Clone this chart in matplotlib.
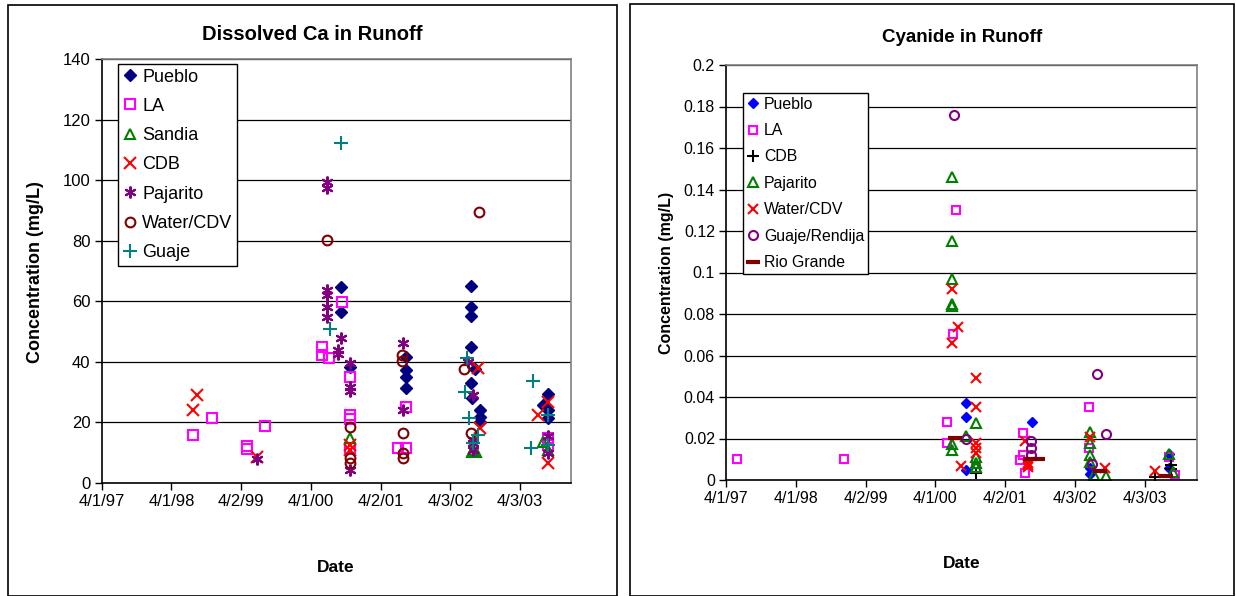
import matplotlib
matplotlib.use("Agg")
import matplotlib.pyplot as plt
from matplotlib.patches import Rectangle

plt.rcParams['font.family'] = ['Liberation Sans', 'DejaVu Sans']

# ---------------- data (x = decimal year) ----------------
tick_labels = ["4/1/97", "4/1/98", "4/2/99", "4/1/00", "4/2/01", "4/3/02", "4/3/03"]
tick_years = [1997.25, 1998.25, 1999.25, 2000.25, 2001.25, 2002.25, 2003.25]

# Dissolved Ca (mg/L)
ca_pueblo_x = [2000.68, 2000.68, 2000.81, 2001.61, 2001.61, 2001.61, 2001.61,
               2002.54, 2002.54, 2002.54, 2002.54, 2002.54, 2002.56, 2002.67, 2002.67, 2002.67, 2002.6,
               2003.65, 2003.65, 2003.65, 2003.58]
ca_pueblo_y = [64.8, 56.4, 38.4, 41.7, 37.3, 35.1, 31.3,
               65.0, 58.2, 55.2, 45.0, 33.1, 28.0, 24.1, 21.9, 20.0, 37.5,
               29.3, 24.1, 21.4, 25.8]

ca_la_x = [1998.56, 1998.83, 1999.33, 1999.33, 1999.59, 2000.41, 2000.41, 2000.51, 2000.69,
           2000.81, 2000.81, 2000.81, 2000.81, 2001.50, 2001.62, 2001.62, 2003.65, 2003.65]
ca_la_y = [16.0, 21.5, 12.2, 11.1, 18.8, 45.0, 42.3, 41.2, 59.9,
           35.1, 22.5, 21.0, 11.5, 11.5, 11.5, 25.2, 14.8, 12.5]

ca_sandia_x = [2000.81, 2002.56, 2002.62, 2002.58, 2003.58, 2003.65]
ca_sandia_y = [14.8, 10.3, 10.3, 11.0, 13.6, 11.0]

ca_cdb_x = [1998.61, 1998.56, 1999.47, 2000.81, 2000.81, 2002.65, 2002.67, 2003.51, 2003.65, 2003.65]
ca_cdb_y = [29.0, 24.0, 8.7, 12.5, 11.0, 37.9, 18.1, 22.5, 26.6, 6.5]

ca_pajarito_x = [1999.47, 2000.48, 2000.48, 2000.48, 2000.48, 2000.48, 2000.48,
                 2000.68, 2000.64, 2000.64, 2000.81, 2000.81, 2000.81, 2000.81,
                 2001.57, 2001.57, 2002.58, 2002.58, 2002.58, 2002.58, 2002.5, 2003.65, 2003.65]
ca_pajarito_y = [7.8, 99.5, 97.3, 63.7, 62.0, 58.2, 54.9,
                 47.8, 43.9, 42.7, 39.7, 31.8, 30.5, 4.3,
                 46.1, 24.1, 29.0, 14.2, 13.2, 10.9, 39.9, 15.5, 9.8]

ca_water_x = [2000.48, 2000.81, 2000.81, 2000.81, 2001.55, 2001.55, 2001.57, 2001.57, 2001.57,
              2002.66, 2002.45, 2002.54]
ca_water_y = [80.2, 18.6, 8.2, 6.5, 42.3, 40.4, 16.4, 9.8, 8.4,
              89.4, 37.8, 16.4]

ca_guaje_x = [2000.68, 2000.53, 2002.49, 2002.46, 2002.52, 2002.64, 2002.58,
              2003.44, 2003.41, 2003.65, 2003.65]
ca_guaje_y = [112.2, 51.0, 41.2, 30.1, 21.4, 15.8, 13.1,
              33.7, 11.7, 22.5, 12.5]

# Cyanide (mg/L)
cn_pueblo_x = [2000.69, 2000.69, 2000.69, 2001.63, 2002.46, 2002.46, 2003.6, 2003.6]
cn_pueblo_y = [0.037, 0.0302, 0.0048, 0.0278, 0.0056, 0.003, 0.0125, 0.006]

cn_la_x = [1997.41, 1998.94, 2000.54, 2000.51, 2000.42, 2000.42, 2000.83,
           2001.5, 2001.5, 2001.47, 2001.53, 2002.45, 2002.45, 2003.6, 2003.68]
cn_la_y = [0.01, 0.01, 0.13, 0.0704, 0.0281, 0.018, 0.006,
           0.0225, 0.012, 0.0096, 0.0032, 0.0353, 0.0153, 0.011, 0.0025]

cn_cdb_x = [2000.83, 2003.4, 2003.63, 2003.63]
cn_cdb_y = [0.0035, 0.0016, 0.0072, 0.0055]

cn_pajarito_x = [2000.49, 2000.49, 2000.49, 2000.49, 2000.49, 2000.49, 2000.49, 2000.69,
                 2000.83, 2000.83, 2000.83, 2000.83,
                 2002.46, 2002.46, 2002.46, 2002.46, 2002.52, 2002.69, 2003.6, 2003.66]
cn_pajarito_y = [0.146, 0.115, 0.097, 0.085, 0.084, 0.0174, 0.0145, 0.021,
                 0.0276, 0.0112, 0.008, 0.0063,
                 0.023, 0.0177, 0.012, 0.0088, 0.0024, 0.002, 0.0125, 0.004]

cn_water_x = [2000.49, 2000.49, 2000.58, 2000.83, 2000.83, 2000.83, 2000.83, 2000.83, 2000.62,
              2001.53, 2001.58, 2001.58, 2001.58, 2002.46, 2002.68, 2003.4]
cn_water_y = [0.092, 0.0659, 0.0736, 0.0493, 0.035, 0.0177, 0.0153, 0.0129, 0.0069,
              0.0188, 0.008, 0.0064, 0.007, 0.0209, 0.0056, 0.0045]

cn_guaje_x = [2000.52, 2000.69, 2001.62, 2001.62, 2001.62, 2002.57, 2002.69, 2002.5]
cn_guaje_y = [0.176, 0.0196, 0.0188, 0.0156, 0.012, 0.0511, 0.022, 0.0077]

cn_rio_x = [2000.53, 2001.6, 2001.72, 2002.61, 2003.56]
cn_rio_y = [0.0204, 0.0101, 0.0101, 0.0045, 0.002]

# ---------------- figure ----------------
W, H = 1236, 596
fig = plt.figure(figsize=(W / 100, H / 100), dpi=100)

# chart-area borders
fig.add_artist(Rectangle((8 / W, 0.5 / H), (617 - 8) / W, (H - 5 - 0.5) / H,
                         transform=fig.transFigure, fill=False, edgecolor='black', lw=1.2))
fig.add_artist(Rectangle((630 / W, 0.5 / H), (1234 - 630) / W, (H - 4 - 0.5) / H,
                         transform=fig.transFigure, fill=False, edgecolor='black', lw=1.2))


def style_axes(ax, ymax, ystep, xmax, fmt, fs):
    ax.set_xlim(1997.25, xmax)
    ax.set_ylim(0, ymax)
    yt = [i * ystep for i in range(int(round(ymax / ystep)) + 1)]
    ax.set_yticks(yt)
    ax.set_yticklabels([fmt(v) for v in yt], fontsize=fs)
    ax.set_xticks(tick_years)
    ax.set_xticklabels(tick_labels, fontsize=fs)
    ax.tick_params(axis='both', direction='out', length=5, width=1, color='black')
    ax.tick_params(axis='x', pad=3)
    ax.tick_params(axis='y', pad=3)
    for v in yt[1:]:
        ax.axhline(v, color='black', lw=0.9, zorder=0)
    for s in ['top', 'right']:
        ax.spines[s].set_color('#808080')
        ax.spines[s].set_linewidth(1.2)
    for s in ['left', 'bottom']:
        ax.spines[s].set_color('black')
        ax.spines[s].set_linewidth(1.2)


# ---- left: Dissolved Ca ----
ax1 = fig.add_axes([101.7 / W, 1 - 483 / H, (571 - 101.7) / W, (483 - 59) / H])
ms = 6.5
ax1.plot(ca_pueblo_x, ca_pueblo_y, ls='none', marker='D', ms=ms - 0.5, color='#000080', label='Pueblo')
ax1.plot(ca_la_x, ca_la_y, ls='none', marker='s', ms=ms, mfc='none', mec='#FF00FF', mew=1.5, label='LA')
ax1.plot(ca_sandia_x, ca_sandia_y, ls='none', marker='^', ms=ms + 0.5, mfc='none', mec='#008000', mew=1.5, label='Sandia')
ax1.plot(ca_cdb_x, ca_cdb_y, ls='none', marker='x', ms=ms + 1.5, color='#FF0000', mew=1.5, label='CDB')
ax1.plot(ca_pajarito_x, ca_pajarito_y, ls='none', marker=(6, 2, 0), ms=ms + 2, color='#800080', mew=1.5, label='Pajarito')
ax1.plot(ca_water_x, ca_water_y, ls='none', marker='o', ms=ms + 0.5, mfc='none', mec='#800000', mew=1.5, label='Water/CDV')
ax1.plot(ca_guaje_x, ca_guaje_y, ls='none', marker='+', ms=ms + 3, color='#008080', mew=1.5, label='Guaje')
style_axes(ax1, 140, 20, 2003.98, lambda v: f"{v:g}", 12)
leg1 = fig.legend(*ax1.get_legend_handles_labels(), loc='upper left',
                  bbox_to_anchor=(118 / W, 1 - 64 / H), fontsize=13, frameon=True,
                  fancybox=False, edgecolor='black', framealpha=1, borderpad=0.25,
                  labelspacing=0.68, handlelength=0.8, handletextpad=0.3, borderaxespad=0)
leg1.get_frame().set_linewidth(1.0)

fig.text(312 / W, 1 - 34 / H, "Dissolved Ca in Runoff", ha='center', va='center',
         fontsize=14.5, fontweight='bold')
fig.text(36 / W, 1 - 272 / H, "Concentration (mg/L)", ha='center', va='center',
         rotation=90, fontsize=13, fontweight='bold')
fig.text(336 / W, 1 - 567 / H, "Date", ha='center', va='center', fontsize=12.5, fontweight='bold')

# ---- right: Cyanide ----
ax2 = fig.add_axes([726 / W, 1 - 480 / H, (1197 - 726) / W, (480 - 65) / H])
ms2 = 6
ax2.plot(cn_pueblo_x, cn_pueblo_y, ls='none', marker='D', ms=ms2 - 0.5, color='#0000FF', label='Pueblo')
ax2.plot(cn_la_x, cn_la_y, ls='none', marker='s', ms=ms2, mfc='none', mec='#FF00FF', mew=1.5, label='LA')
ax2.plot(cn_cdb_x, cn_cdb_y, ls='none', marker='+', ms=ms2 + 3, color='black', mew=1.5, label='CDB')
ax2.plot(cn_pajarito_x, cn_pajarito_y, ls='none', marker='^', ms=ms2 + 0.5, mfc='none', mec='#008000', mew=1.5, label='Pajarito')
ax2.plot(cn_water_x, cn_water_y, ls='none', marker='x', ms=ms2 + 1.5, color='#FF0000', mew=1.5, label='Water/CDV')
ax2.plot(cn_guaje_x, cn_guaje_y, ls='none', marker='o', ms=ms2 + 0.5, mfc='none', mec='#800080', mew=1.5, label='Guaje/Rendija')
ax2.plot(cn_rio_x, cn_rio_y, ls='none', marker='_', ms=ms2 + 4, color='#800000', mew=3, label='Rio Grande')
style_axes(ax2, 0.2, 0.02, 2004.0, lambda v: "0" if v == 0 else f"{v:.2f}".rstrip('0'), 11.5)
leg2 = fig.legend(*ax2.get_legend_handles_labels(), loc='upper left',
                  bbox_to_anchor=(742.7 / W, 1 - 92.7 / H), fontsize=11.4, frameon=True,
                  fancybox=False, edgecolor='black', framealpha=1, borderpad=0.25,
                  labelspacing=0.72, handlelength=0.8, handletextpad=0.3, borderaxespad=0)
leg2.get_frame().set_linewidth(1.0)

fig.text(962 / W, 1 - 38 / H, "Cyanide in Runoff", ha='center', va='center',
         fontsize=13.5, fontweight='bold')
fig.text(667 / W, 1 - 273 / H, "Concentration (mg/L)", ha='center', va='center',
         rotation=90, fontsize=11.5, fontweight='bold')
fig.text(962 / W, 1 - 563 / H, "Date", ha='center', va='center', fontsize=12.5, fontweight='bold')

fig.savefig("out.png", dpi=100)
